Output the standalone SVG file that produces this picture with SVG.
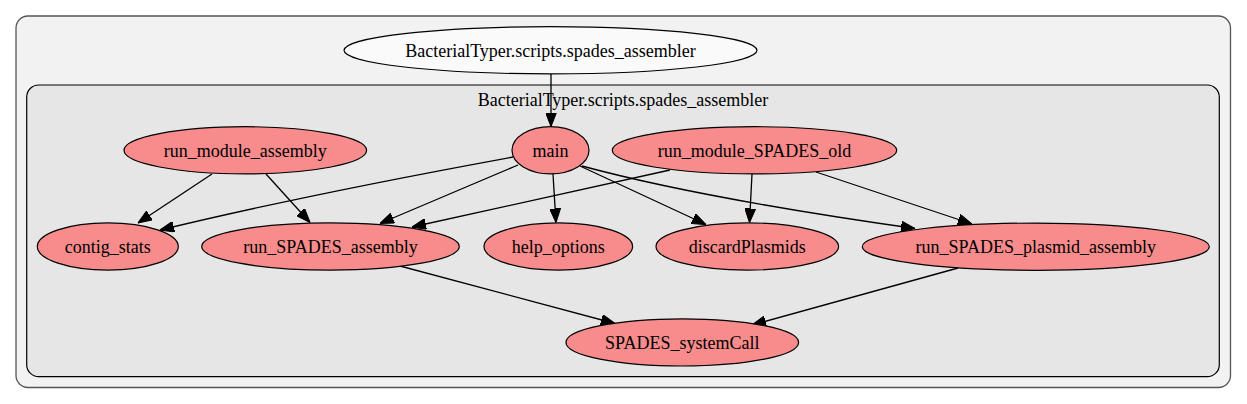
<svg xmlns="http://www.w3.org/2000/svg" width="1247" height="404" viewBox="0 0 1247 404">
<style>
text{font-family:"Liberation Serif","Times New Roman",Times,serif;font-size:18px;fill:#000;text-anchor:middle}
.fn{fill:#f88b8b;stroke:#000;stroke-width:1.2}
.mod{fill:#fafafa;stroke:#000;stroke-width:1.2}
.e{fill:none;stroke:#000;stroke-width:1.3;marker-end:url(#ah)}
</style>
<defs>
<marker id="ah" markerUnits="userSpaceOnUse" markerWidth="14" markerHeight="11" viewBox="0 0 13 10" refX="13" refY="5" orient="auto">
<path d="M0,0 L13,5 L0,10 Z" fill="#000" stroke="#000" stroke-width="1"/>
</marker>
</defs>
<g id="cluster_outer">
<rect x="16" y="16" width="1214.5" height="371.5" rx="12" fill="#f2f2f2" stroke="#555" stroke-width="1.3"/>
</g>
<g id="cluster_inner">
<rect x="26.7" y="85" width="1192.6" height="291.7" rx="12" fill="#e6e6e6" stroke="#000" stroke-width="1.2"/>
<text x="623" y="106">BacterialTyper.scripts.spades_assembler</text>
</g>
<g id="edges">
<path class="e" d="M551,74 L551,126.5"/>
<path class="e" d="M212,174 L138,223"/>
<path class="e" d="M266,174 L310,222.5"/>
<path class="e" d="M513,157 Q300,196 160,230"/>
<path class="e" d="M518,165 L380,223.5"/>
<path class="e" d="M670,170 L412,227"/>
<path class="e" d="M553,174 L556,222.5"/>
<path class="e" d="M580,166 L706,224.5"/>
<path class="e" d="M752,174 L749.5,222.5"/>
<path class="e" d="M582,166 Q700,198 915,228.5"/>
<path class="e" d="M816,172 L972,224"/>
<path class="e" d="M400,266 L615,323.5"/>
<path class="e" d="M958,268 L752,325"/>
</g>
<g id="node_module">
<ellipse class="mod" cx="550.5" cy="50.3" rx="206.5" ry="23.6"/>
<text x="550.5" y="56.5">BacterialTyper.scripts.spades_assembler</text>
</g>
<g id="node_main">
<ellipse class="fn" cx="550.5" cy="150.3" rx="38.5" ry="23.6"/>
<text x="550.5" y="156.5">main</text>
</g>
<g id="node_run_module_assembly">
<ellipse class="fn" cx="245.3" cy="150.3" rx="121.3" ry="23.6"/>
<text x="245.3" y="156.5">run_module_assembly</text>
</g>
<g id="node_run_module_SPADES_old">
<ellipse class="fn" cx="754.5" cy="150.3" rx="142.2" ry="23.6"/>
<text x="754.5" y="156.5">run_module_SPADES_old</text>
</g>
<g id="node_contig_stats">
<ellipse class="fn" cx="107.8" cy="246.5" rx="70.5" ry="23.6"/>
<text x="107.8" y="252.7">contig_stats</text>
</g>
<g id="node_run_SPADES_assembly">
<ellipse class="fn" cx="330.5" cy="246.5" rx="128.8" ry="23.6"/>
<text x="330.5" y="252.7">run_SPADES_assembly</text>
</g>
<g id="node_help_options">
<ellipse class="fn" cx="558.3" cy="246.5" rx="74.3" ry="23.6"/>
<text x="558.3" y="252.7">help_options</text>
</g>
<g id="node_discardPlasmids">
<ellipse class="fn" cx="747.3" cy="246.5" rx="91.3" ry="23.6"/>
<text x="747.3" y="252.7">discardPlasmids</text>
</g>
<g id="node_run_SPADES_plasmid_assembly">
<ellipse class="fn" cx="1035.8" cy="246.7" rx="173.5" ry="23.6"/>
<text x="1035.8" y="252.9">run_SPADES_plasmid_assembly</text>
</g>
<g id="node_SPADES_systemCall">
<ellipse class="fn" cx="682.3" cy="342.4" rx="116.3" ry="23.6"/>
<text x="682.3" y="348.6">SPADES_systemCall</text>
</g>
</svg>
